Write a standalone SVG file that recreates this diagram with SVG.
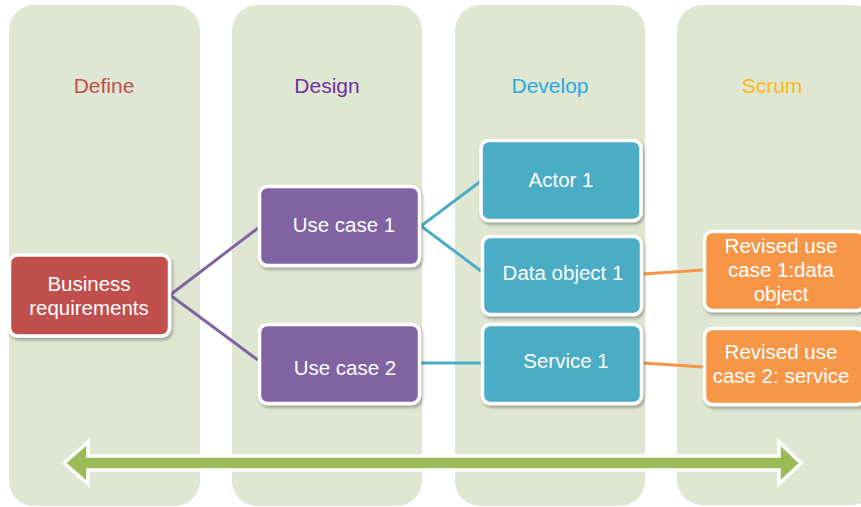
<svg xmlns="http://www.w3.org/2000/svg" width="861" height="507" viewBox="0 0 861 507">
<defs>
<style>
.panel{fill:#DFE7D3}
.lbl{font-family:"Liberation Sans",Arial,sans-serif;font-size:21px;text-anchor:middle}
.box{stroke:#FFFFFF;stroke-width:3.5;filter:url(#sh)}
.t{font-family:"Liberation Sans",Arial,sans-serif;font-size:20.5px;fill:#FFFFFF;text-anchor:middle}
.cp{stroke:#8064A2;stroke-width:3;fill:none}
.cb{stroke:#4BACC6;stroke-width:3;fill:none}
.co{stroke:#F79646;stroke-width:3;fill:none}
</style>
<filter id="sh" x="-10%" y="-10%" width="125%" height="130%">
<feDropShadow dx="1.5" dy="2.5" stdDeviation="1.5" flood-color="#000000" flood-opacity="0.3"/>
</filter>
</defs>
<rect width="861" height="507" fill="#FFFFFF"/>
<g id="panels">
<rect class="panel" x="9" y="5" width="191" height="501" rx="25"/>
<rect class="panel" x="232" y="5" width="190" height="501" rx="25"/>
<rect class="panel" x="455" y="5" width="190" height="501" rx="25"/>
<rect class="panel" x="677" y="5" width="200" height="500" rx="25"/>
<text class="lbl" x="104" y="93" fill="#C0504D">Define</text>
<text class="lbl" x="327" y="93" fill="#7030A0">Design</text>
<text class="lbl" x="550" y="93" fill="#29A8DF">Develop</text>
<text class="lbl" x="772" y="93" fill="#FBB814">Scrum</text>
</g>
<g id="connectors">
<polyline class="cp" points="258,228 170,295 258,360"/>
<polyline class="cb" points="481,181 421,226 481,271"/>
<line class="cb" x1="421" y1="363" x2="481" y2="363"/>
<line class="co" x1="643" y1="274" x2="703" y2="270"/>
<line class="co" x1="643" y1="363" x2="703" y2="367"/>
</g>
<g id="timeline">
<polygon points="64,463 88,442 88,456 779,456 779,442 801,463 779,484 779,470 88,470 88,484" fill="#9BBB59" stroke="#FFFFFF" stroke-width="3.5" stroke-linejoin="miter"/>
</g>
<g id="business">
<rect class="box" x="9.5" y="255" width="160" height="81" rx="8" fill="#C0504D"/>
<text class="t" x="89" y="291">Business</text>
<text class="t" x="89" y="315">requirements</text>
</g>
<g id="usecase1">
<rect class="box" x="259.5" y="186.5" width="160" height="79" rx="8" fill="#8064A2"/>
<text class="t" x="344" y="232">Use case 1</text>
</g>
<g id="usecase2">
<rect class="box" x="259.5" y="324.5" width="160" height="79" rx="8" fill="#8064A2"/>
<text class="t" x="345" y="375">Use case 2</text>
</g>
<g id="actor1">
<rect class="box" x="481" y="140.5" width="160" height="80" rx="8" fill="#4BACC6"/>
<text class="t" x="561" y="187">Actor 1</text>
</g>
<g id="dataobject1">
<rect class="box" x="482.5" y="236.5" width="159" height="78" rx="8" fill="#4BACC6"/>
<text class="t" x="563" y="280">Data object 1</text>
</g>
<g id="service1">
<rect class="box" x="482.5" y="324.5" width="159" height="79" rx="8" fill="#4BACC6"/>
<text class="t" x="566" y="368">Service 1</text>
</g>
<g id="revised1">
<rect class="box" x="704.5" y="231.5" width="160" height="79" rx="8" fill="#F79646"/>
<text class="t" x="781" y="253">Revised use</text>
<text class="t" x="781" y="277">case 1:data</text>
<text class="t" x="781" y="301">object</text>
</g>
<g id="revised2">
<rect class="box" x="704.5" y="328.5" width="160" height="76" rx="8" fill="#F79646"/>
<text class="t" x="781" y="359">Revised use</text>
<text class="t" x="781" y="383">case 2: service</text>
</g>
</svg>
